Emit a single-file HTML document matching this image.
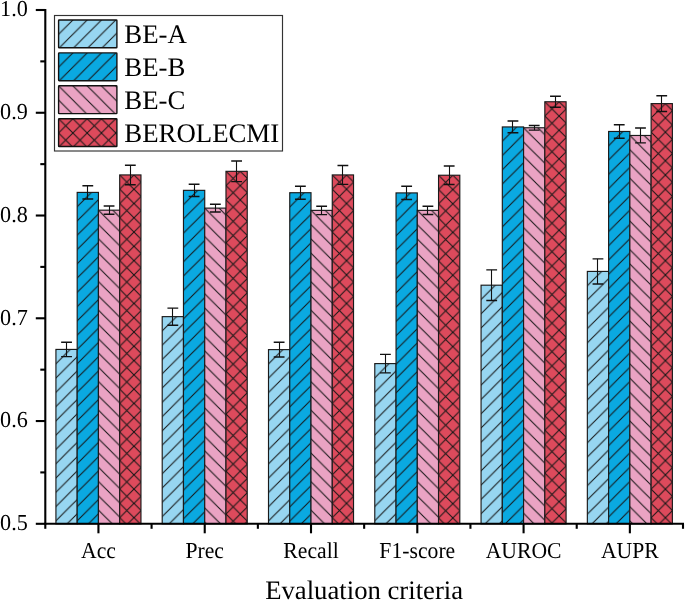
<!DOCTYPE html><html><head><meta charset="utf-8"><style>html,body{margin:0;padding:0;background:#fff;}svg{display:block;will-change:transform;}text{font-family:"Liberation Serif",serif;fill:#000;text-rendering:geometricPrecision;}</style></head><body>
<svg width="685" height="601" viewBox="0 0 685 601">
<defs><pattern id="p1" patternUnits="userSpaceOnUse" width="14.28" height="14.28" x="55.93" y="349.42"><rect width="15.28" height="15.28" fill="#97d6f1"/><path d="M-16.280,16.280L2.000,-2.000M-2.000,16.280L16.280,-2.000M12.280,16.280L30.560,-2.000" stroke="#161616" stroke-width="1.05" fill="none"/></pattern><pattern id="p2" patternUnits="userSpaceOnUse" width="14.28" height="14.28" x="77.18" y="192.40"><rect width="15.28" height="15.28" fill="#0aa9e1"/><path d="M-16.280,16.280L2.000,-2.000M-2.000,16.280L16.280,-2.000M12.280,16.280L30.560,-2.000" stroke="#161616" stroke-width="1.05" fill="none"/></pattern><pattern id="p3" patternUnits="userSpaceOnUse" width="14.28" height="14.28" x="98.44" y="210.18"><rect width="15.28" height="15.28" fill="#eaa3c3"/><path d="M-16.280,-2.000L2.000,16.280M-2.000,-2.000L16.280,16.280M12.280,-2.000L30.560,16.280" stroke="#161616" stroke-width="1.05" fill="none"/></pattern><pattern id="p4" patternUnits="userSpaceOnUse" width="14.28" height="14.28" x="119.70" y="174.93"><rect width="15.28" height="15.28" fill="#dd4a5c"/><path d="M-16.280,16.280L2.000,-2.000M-2.000,16.280L16.280,-2.000M12.280,16.280L30.560,-2.000" stroke="#161616" stroke-width="1.05" fill="none"/><path d="M-16.280,-2.000L2.000,16.280M-2.000,-2.000L16.280,16.280M12.280,-2.000L30.560,16.280" stroke="#161616" stroke-width="1.05" fill="none"/></pattern><pattern id="p5" patternUnits="userSpaceOnUse" width="14.28" height="14.28" x="162.21" y="316.64"><rect width="15.28" height="15.28" fill="#97d6f1"/><path d="M-16.280,16.280L2.000,-2.000M-2.000,16.280L16.280,-2.000M12.280,16.280L30.560,-2.000" stroke="#161616" stroke-width="1.05" fill="none"/></pattern><pattern id="p6" patternUnits="userSpaceOnUse" width="14.28" height="14.28" x="183.47" y="190.34"><rect width="15.28" height="15.28" fill="#0aa9e1"/><path d="M-16.280,16.280L2.000,-2.000M-2.000,16.280L16.280,-2.000M12.280,16.280L30.560,-2.000" stroke="#161616" stroke-width="1.05" fill="none"/></pattern><pattern id="p7" patternUnits="userSpaceOnUse" width="14.28" height="14.28" x="204.73" y="208.12"><rect width="15.28" height="15.28" fill="#eaa3c3"/><path d="M-16.280,-2.000L2.000,16.280M-2.000,-2.000L16.280,16.280M12.280,-2.000L30.560,16.280" stroke="#161616" stroke-width="1.05" fill="none"/></pattern><pattern id="p8" patternUnits="userSpaceOnUse" width="14.28" height="14.28" x="225.98" y="171.33"><rect width="15.28" height="15.28" fill="#dd4a5c"/><path d="M-16.280,16.280L2.000,-2.000M-2.000,16.280L16.280,-2.000M12.280,16.280L30.560,-2.000" stroke="#161616" stroke-width="1.05" fill="none"/><path d="M-16.280,-2.000L2.000,16.280M-2.000,-2.000L16.280,16.280M12.280,-2.000L30.560,16.280" stroke="#161616" stroke-width="1.05" fill="none"/></pattern><pattern id="p9" patternUnits="userSpaceOnUse" width="14.28" height="14.28" x="268.50" y="349.62"><rect width="15.28" height="15.28" fill="#97d6f1"/><path d="M-16.280,16.280L2.000,-2.000M-2.000,16.280L16.280,-2.000M12.280,16.280L30.560,-2.000" stroke="#161616" stroke-width="1.05" fill="none"/></pattern><pattern id="p10" patternUnits="userSpaceOnUse" width="14.28" height="14.28" x="289.75" y="192.71"><rect width="15.28" height="15.28" fill="#0aa9e1"/><path d="M-16.280,16.280L2.000,-2.000M-2.000,16.280L16.280,-2.000M12.280,16.280L30.560,-2.000" stroke="#161616" stroke-width="1.05" fill="none"/></pattern><pattern id="p11" patternUnits="userSpaceOnUse" width="14.28" height="14.28" x="311.01" y="210.38"><rect width="15.28" height="15.28" fill="#eaa3c3"/><path d="M-16.280,-2.000L2.000,16.280M-2.000,-2.000L16.280,16.280M12.280,-2.000L30.560,16.280" stroke="#161616" stroke-width="1.05" fill="none"/></pattern><pattern id="p12" patternUnits="userSpaceOnUse" width="14.28" height="14.28" x="332.27" y="174.93"><rect width="15.28" height="15.28" fill="#dd4a5c"/><path d="M-16.280,16.280L2.000,-2.000M-2.000,16.280L16.280,-2.000M12.280,16.280L30.560,-2.000" stroke="#161616" stroke-width="1.05" fill="none"/><path d="M-16.280,-2.000L2.000,16.280M-2.000,-2.000L16.280,16.280M12.280,-2.000L30.560,16.280" stroke="#161616" stroke-width="1.05" fill="none"/></pattern><pattern id="p13" patternUnits="userSpaceOnUse" width="14.28" height="14.28" x="374.78" y="363.60"><rect width="15.28" height="15.28" fill="#97d6f1"/><path d="M-16.280,16.280L2.000,-2.000M-2.000,16.280L16.280,-2.000M12.280,16.280L30.560,-2.000" stroke="#161616" stroke-width="1.05" fill="none"/></pattern><pattern id="p14" patternUnits="userSpaceOnUse" width="14.28" height="14.28" x="396.04" y="192.91"><rect width="15.28" height="15.28" fill="#0aa9e1"/><path d="M-16.280,16.280L2.000,-2.000M-2.000,16.280L16.280,-2.000M12.280,16.280L30.560,-2.000" stroke="#161616" stroke-width="1.05" fill="none"/></pattern><pattern id="p15" patternUnits="userSpaceOnUse" width="14.28" height="14.28" x="417.29" y="210.38"><rect width="15.28" height="15.28" fill="#eaa3c3"/><path d="M-16.280,-2.000L2.000,16.280M-2.000,-2.000L16.280,16.280M12.280,-2.000L30.560,16.280" stroke="#161616" stroke-width="1.05" fill="none"/></pattern><pattern id="p16" patternUnits="userSpaceOnUse" width="14.28" height="14.28" x="438.55" y="175.24"><rect width="15.28" height="15.28" fill="#dd4a5c"/><path d="M-16.280,16.280L2.000,-2.000M-2.000,16.280L16.280,-2.000M12.280,16.280L30.560,-2.000" stroke="#161616" stroke-width="1.05" fill="none"/><path d="M-16.280,-2.000L2.000,16.280M-2.000,-2.000L16.280,16.280M12.280,-2.000L30.560,16.280" stroke="#161616" stroke-width="1.05" fill="none"/></pattern><pattern id="p17" patternUnits="userSpaceOnUse" width="14.28" height="14.28" x="481.06" y="285.19"><rect width="15.28" height="15.28" fill="#97d6f1"/><path d="M-16.280,16.280L2.000,-2.000M-2.000,16.280L16.280,-2.000M12.280,16.280L30.560,-2.000" stroke="#161616" stroke-width="1.05" fill="none"/></pattern><pattern id="p18" patternUnits="userSpaceOnUse" width="14.28" height="14.28" x="502.32" y="126.94"><rect width="15.28" height="15.28" fill="#0aa9e1"/><path d="M-16.280,16.280L2.000,-2.000M-2.000,16.280L16.280,-2.000M12.280,16.280L30.560,-2.000" stroke="#161616" stroke-width="1.05" fill="none"/></pattern><pattern id="p19" patternUnits="userSpaceOnUse" width="14.28" height="14.28" x="523.58" y="127.76"><rect width="15.28" height="15.28" fill="#eaa3c3"/><path d="M-16.280,-2.000L2.000,16.280M-2.000,-2.000L16.280,16.280M12.280,-2.000L30.560,16.280" stroke="#161616" stroke-width="1.05" fill="none"/></pattern><pattern id="p20" patternUnits="userSpaceOnUse" width="14.28" height="14.28" x="544.83" y="101.76"><rect width="15.28" height="15.28" fill="#dd4a5c"/><path d="M-16.280,16.280L2.000,-2.000M-2.000,16.280L16.280,-2.000M12.280,16.280L30.560,-2.000" stroke="#161616" stroke-width="1.05" fill="none"/><path d="M-16.280,-2.000L2.000,16.280M-2.000,-2.000L16.280,16.280M12.280,-2.000L30.560,16.280" stroke="#161616" stroke-width="1.05" fill="none"/></pattern><pattern id="p21" patternUnits="userSpaceOnUse" width="14.28" height="14.28" x="587.35" y="271.42"><rect width="15.28" height="15.28" fill="#97d6f1"/><path d="M-16.280,16.280L2.000,-2.000M-2.000,16.280L16.280,-2.000M12.280,16.280L30.560,-2.000" stroke="#161616" stroke-width="1.05" fill="none"/></pattern><pattern id="p22" patternUnits="userSpaceOnUse" width="14.28" height="14.28" x="608.60" y="131.46"><rect width="15.28" height="15.28" fill="#0aa9e1"/><path d="M-16.280,16.280L2.000,-2.000M-2.000,16.280L16.280,-2.000M12.280,16.280L30.560,-2.000" stroke="#161616" stroke-width="1.05" fill="none"/></pattern><pattern id="p23" patternUnits="userSpaceOnUse" width="14.28" height="14.28" x="629.86" y="135.47"><rect width="15.28" height="15.28" fill="#eaa3c3"/><path d="M-16.280,-2.000L2.000,16.280M-2.000,-2.000L16.280,16.280M12.280,-2.000L30.560,16.280" stroke="#161616" stroke-width="1.05" fill="none"/></pattern><pattern id="p24" patternUnits="userSpaceOnUse" width="14.28" height="14.28" x="651.12" y="103.61"><rect width="15.28" height="15.28" fill="#dd4a5c"/><path d="M-16.280,16.280L2.000,-2.000M-2.000,16.280L16.280,-2.000M12.280,16.280L30.560,-2.000" stroke="#161616" stroke-width="1.05" fill="none"/><path d="M-16.280,-2.000L2.000,16.280M-2.000,-2.000L16.280,16.280M12.280,-2.000L30.560,16.280" stroke="#161616" stroke-width="1.05" fill="none"/></pattern><pattern id="p25" patternUnits="userSpaceOnUse" width="14.28" height="14.28" x="58.60" y="20.00"><rect width="15.28" height="15.28" fill="#97d6f1"/><path d="M-16.280,16.280L2.000,-2.000M-2.000,16.280L16.280,-2.000M12.280,16.280L30.560,-2.000" stroke="#161616" stroke-width="1.05" fill="none"/></pattern><pattern id="p26" patternUnits="userSpaceOnUse" width="14.28" height="14.28" x="58.60" y="52.90"><rect width="15.28" height="15.28" fill="#0aa9e1"/><path d="M-16.280,16.280L2.000,-2.000M-2.000,16.280L16.280,-2.000M12.280,16.280L30.560,-2.000" stroke="#161616" stroke-width="1.05" fill="none"/></pattern><pattern id="p27" patternUnits="userSpaceOnUse" width="14.28" height="14.28" x="58.60" y="85.80"><rect width="15.28" height="15.28" fill="#eaa3c3"/><path d="M-16.280,-2.000L2.000,16.280M-2.000,-2.000L16.280,16.280M12.280,-2.000L30.560,16.280" stroke="#161616" stroke-width="1.05" fill="none"/></pattern><pattern id="p28" patternUnits="userSpaceOnUse" width="14.28" height="14.28" x="58.60" y="118.70"><rect width="15.28" height="15.28" fill="#dd4a5c"/><path d="M-16.280,16.280L2.000,-2.000M-2.000,16.280L16.280,-2.000M12.280,16.280L30.560,-2.000" stroke="#161616" stroke-width="1.05" fill="none"/><path d="M-16.280,-2.000L2.000,16.280M-2.000,-2.000L16.280,16.280M12.280,-2.000L30.560,16.280" stroke="#161616" stroke-width="1.05" fill="none"/></pattern></defs>
<rect width="685" height="601" fill="#fff"/>
<rect x="55.93" y="349.42" width="21.26" height="174.38" fill="url(#p1)" stroke="#1a1a1a" stroke-width="1.15"/>
<rect x="77.18" y="192.40" width="21.26" height="331.40" fill="url(#p2)" stroke="#1a1a1a" stroke-width="1.15"/>
<rect x="98.44" y="210.18" width="21.26" height="313.62" fill="url(#p3)" stroke="#1a1a1a" stroke-width="1.15"/>
<rect x="119.70" y="174.93" width="21.26" height="348.87" fill="url(#p4)" stroke="#1a1a1a" stroke-width="1.15"/>
<rect x="162.21" y="316.64" width="21.26" height="207.16" fill="url(#p5)" stroke="#1a1a1a" stroke-width="1.15"/>
<rect x="183.47" y="190.34" width="21.26" height="333.46" fill="url(#p6)" stroke="#1a1a1a" stroke-width="1.15"/>
<rect x="204.73" y="208.12" width="21.26" height="315.68" fill="url(#p7)" stroke="#1a1a1a" stroke-width="1.15"/>
<rect x="225.98" y="171.33" width="21.26" height="352.47" fill="url(#p8)" stroke="#1a1a1a" stroke-width="1.15"/>
<rect x="268.50" y="349.62" width="21.26" height="174.18" fill="url(#p9)" stroke="#1a1a1a" stroke-width="1.15"/>
<rect x="289.75" y="192.71" width="21.26" height="331.09" fill="url(#p10)" stroke="#1a1a1a" stroke-width="1.15"/>
<rect x="311.01" y="210.38" width="21.26" height="313.42" fill="url(#p11)" stroke="#1a1a1a" stroke-width="1.15"/>
<rect x="332.27" y="174.93" width="21.26" height="348.87" fill="url(#p12)" stroke="#1a1a1a" stroke-width="1.15"/>
<rect x="374.78" y="363.60" width="21.26" height="160.20" fill="url(#p13)" stroke="#1a1a1a" stroke-width="1.15"/>
<rect x="396.04" y="192.91" width="21.26" height="330.89" fill="url(#p14)" stroke="#1a1a1a" stroke-width="1.15"/>
<rect x="417.29" y="210.38" width="21.26" height="313.42" fill="url(#p15)" stroke="#1a1a1a" stroke-width="1.15"/>
<rect x="438.55" y="175.24" width="21.26" height="348.56" fill="url(#p16)" stroke="#1a1a1a" stroke-width="1.15"/>
<rect x="481.06" y="285.19" width="21.26" height="238.61" fill="url(#p17)" stroke="#1a1a1a" stroke-width="1.15"/>
<rect x="502.32" y="126.94" width="21.26" height="396.86" fill="url(#p18)" stroke="#1a1a1a" stroke-width="1.15"/>
<rect x="523.58" y="127.76" width="21.26" height="396.04" fill="url(#p19)" stroke="#1a1a1a" stroke-width="1.15"/>
<rect x="544.83" y="101.76" width="21.26" height="422.04" fill="url(#p20)" stroke="#1a1a1a" stroke-width="1.15"/>
<rect x="587.35" y="271.42" width="21.26" height="252.38" fill="url(#p21)" stroke="#1a1a1a" stroke-width="1.15"/>
<rect x="608.60" y="131.46" width="21.26" height="392.34" fill="url(#p22)" stroke="#1a1a1a" stroke-width="1.15"/>
<rect x="629.86" y="135.47" width="21.26" height="388.33" fill="url(#p23)" stroke="#1a1a1a" stroke-width="1.15"/>
<rect x="651.12" y="103.61" width="21.26" height="420.19" fill="url(#p24)" stroke="#1a1a1a" stroke-width="1.15"/>
<path d="M66.50,342.22V356.61" stroke="#111" stroke-width="1.1" fill="none"/>
<path d="M61.16,342.22H71.96M61.16,356.61H71.96" stroke="#111" stroke-width="1.45" fill="none"/>
<path d="M87.50,185.72V199.08" stroke="#111" stroke-width="1.1" fill="none"/>
<path d="M82.41,185.72H93.21M82.41,199.08H93.21" stroke="#111" stroke-width="1.45" fill="none"/>
<path d="M109.50,206.07V214.29" stroke="#111" stroke-width="1.1" fill="none"/>
<path d="M103.67,206.07H114.47M103.67,214.29H114.47" stroke="#111" stroke-width="1.45" fill="none"/>
<path d="M130.50,165.17V184.69" stroke="#111" stroke-width="1.1" fill="none"/>
<path d="M124.93,165.17H135.73M124.93,184.69H135.73" stroke="#111" stroke-width="1.45" fill="none"/>
<path d="M172.50,308.11V325.16" stroke="#111" stroke-width="1.1" fill="none"/>
<path d="M167.44,308.11H178.24M167.44,325.16H178.24" stroke="#111" stroke-width="1.45" fill="none"/>
<path d="M194.50,184.18V196.51" stroke="#111" stroke-width="1.1" fill="none"/>
<path d="M188.70,184.18H199.50M188.70,196.51H199.50" stroke="#111" stroke-width="1.45" fill="none"/>
<path d="M215.50,204.22V212.03" stroke="#111" stroke-width="1.1" fill="none"/>
<path d="M209.95,204.22H220.75M209.95,212.03H220.75" stroke="#111" stroke-width="1.45" fill="none"/>
<path d="M236.50,161.06V181.61" stroke="#111" stroke-width="1.1" fill="none"/>
<path d="M231.21,161.06H242.01M231.21,181.61H242.01" stroke="#111" stroke-width="1.45" fill="none"/>
<path d="M279.50,342.22V357.02" stroke="#111" stroke-width="1.1" fill="none"/>
<path d="M273.72,342.22H284.52M273.72,357.02H284.52" stroke="#111" stroke-width="1.45" fill="none"/>
<path d="M300.50,186.23V199.18" stroke="#111" stroke-width="1.1" fill="none"/>
<path d="M294.98,186.23H305.78M294.98,199.18H305.78" stroke="#111" stroke-width="1.45" fill="none"/>
<path d="M321.50,206.17V214.60" stroke="#111" stroke-width="1.1" fill="none"/>
<path d="M316.24,206.17H327.04M316.24,214.60H327.04" stroke="#111" stroke-width="1.45" fill="none"/>
<path d="M342.50,165.48V184.38" stroke="#111" stroke-width="1.1" fill="none"/>
<path d="M337.49,165.48H348.29M337.49,184.38H348.29" stroke="#111" stroke-width="1.45" fill="none"/>
<path d="M385.50,354.35V372.85" stroke="#111" stroke-width="1.1" fill="none"/>
<path d="M380.01,354.35H390.81M380.01,372.85H390.81" stroke="#111" stroke-width="1.45" fill="none"/>
<path d="M406.50,186.23V199.59" stroke="#111" stroke-width="1.1" fill="none"/>
<path d="M401.26,186.23H412.06M401.26,199.59H412.06" stroke="#111" stroke-width="1.45" fill="none"/>
<path d="M427.50,206.27V214.49" stroke="#111" stroke-width="1.1" fill="none"/>
<path d="M422.52,206.27H433.32M422.52,214.49H433.32" stroke="#111" stroke-width="1.45" fill="none"/>
<path d="M449.50,165.99V184.49" stroke="#111" stroke-width="1.1" fill="none"/>
<path d="M443.78,165.99H454.58M443.78,184.49H454.58" stroke="#111" stroke-width="1.45" fill="none"/>
<path d="M491.50,269.88V300.50" stroke="#111" stroke-width="1.1" fill="none"/>
<path d="M486.29,269.88H497.09M486.29,300.50H497.09" stroke="#111" stroke-width="1.45" fill="none"/>
<path d="M512.50,121.08V132.80" stroke="#111" stroke-width="1.1" fill="none"/>
<path d="M507.55,121.08H518.35M507.55,132.80H518.35" stroke="#111" stroke-width="1.45" fill="none"/>
<path d="M534.50,125.40V130.13" stroke="#111" stroke-width="1.1" fill="none"/>
<path d="M528.80,125.40H539.60M528.80,130.13H539.60" stroke="#111" stroke-width="1.45" fill="none"/>
<path d="M555.50,96.32V107.21" stroke="#111" stroke-width="1.1" fill="none"/>
<path d="M550.06,96.32H560.86M550.06,107.21H560.86" stroke="#111" stroke-width="1.45" fill="none"/>
<path d="M597.50,258.88V283.96" stroke="#111" stroke-width="1.1" fill="none"/>
<path d="M592.57,258.88H603.37M592.57,283.96H603.37" stroke="#111" stroke-width="1.45" fill="none"/>
<path d="M619.50,124.68V138.24" stroke="#111" stroke-width="1.1" fill="none"/>
<path d="M613.83,124.68H624.63M613.83,138.24H624.63" stroke="#111" stroke-width="1.45" fill="none"/>
<path d="M640.50,128.07V142.87" stroke="#111" stroke-width="1.1" fill="none"/>
<path d="M635.09,128.07H645.89M635.09,142.87H645.89" stroke="#111" stroke-width="1.45" fill="none"/>
<path d="M661.50,95.80V111.42" stroke="#111" stroke-width="1.1" fill="none"/>
<path d="M656.34,95.80H667.14M656.34,111.42H667.14" stroke="#111" stroke-width="1.45" fill="none"/>
<path d="M45.3,9.0 V524.8" stroke="#000" stroke-width="2.1" fill="none"/>
<path d="M44.3,523.8 H684.0" stroke="#000" stroke-width="2.1" fill="none"/>
<path d="M35.8,10.00H45.3" stroke="#000" stroke-width="2.1"/>
<text transform="translate(27.8,16.30) scale(1,1.03)" font-size="22.2" text-anchor="end">1.0</text>
<path d="M35.8,112.76H45.3" stroke="#000" stroke-width="2.1"/>
<text transform="translate(27.8,119.06) scale(1,1.03)" font-size="22.2" text-anchor="end">0.9</text>
<path d="M35.8,215.52H45.3" stroke="#000" stroke-width="2.1"/>
<text transform="translate(27.8,221.82) scale(1,1.03)" font-size="22.2" text-anchor="end">0.8</text>
<path d="M35.8,318.28H45.3" stroke="#000" stroke-width="2.1"/>
<text transform="translate(27.8,324.58) scale(1,1.03)" font-size="22.2" text-anchor="end">0.7</text>
<path d="M35.8,421.04H45.3" stroke="#000" stroke-width="2.1"/>
<text transform="translate(27.8,427.34) scale(1,1.03)" font-size="22.2" text-anchor="end">0.6</text>
<path d="M35.8,523.80H45.3" stroke="#000" stroke-width="2.1"/>
<text transform="translate(27.8,530.10) scale(1,1.03)" font-size="22.2" text-anchor="end">0.5</text>
<path d="M40.3,61.38H45.3" stroke="#000" stroke-width="2.1"/>
<path d="M40.3,164.14H45.3" stroke="#000" stroke-width="2.1"/>
<path d="M40.3,266.90H45.3" stroke="#000" stroke-width="2.1"/>
<path d="M40.3,369.66H45.3" stroke="#000" stroke-width="2.1"/>
<path d="M40.3,472.42H45.3" stroke="#000" stroke-width="2.1"/>
<path d="M98.44,523.8V533.3" stroke="#000" stroke-width="2.1"/>
<text transform="translate(98.44,557.8) scale(1,1.05)" font-size="21.7" text-anchor="middle">Acc</text>
<path d="M204.73,523.8V533.3" stroke="#000" stroke-width="2.1"/>
<text transform="translate(204.73,557.8) scale(1,1.05)" font-size="21.7" text-anchor="middle">Prec</text>
<path d="M311.01,523.8V533.3" stroke="#000" stroke-width="2.1"/>
<text transform="translate(311.01,557.8) scale(1,1.05)" font-size="21.7" text-anchor="middle">Recall</text>
<path d="M417.29,523.8V533.3" stroke="#000" stroke-width="2.1"/>
<text transform="translate(417.29,557.8) scale(1,1.05)" font-size="21.7" text-anchor="middle">F1-score</text>
<path d="M523.58,523.8V533.3" stroke="#000" stroke-width="2.1"/>
<text transform="translate(523.58,557.8) scale(1,1.05)" font-size="21.7" text-anchor="middle">AUROC</text>
<path d="M629.86,523.8V533.3" stroke="#000" stroke-width="2.1"/>
<text transform="translate(629.86,557.8) scale(1,1.05)" font-size="21.7" text-anchor="middle">AUPR</text>
<path d="M45.30,523.8V528.8" stroke="#000" stroke-width="2.1"/>
<path d="M151.58,523.8V528.8" stroke="#000" stroke-width="2.1"/>
<path d="M257.87,523.8V528.8" stroke="#000" stroke-width="2.1"/>
<path d="M364.15,523.8V528.8" stroke="#000" stroke-width="2.1"/>
<path d="M470.43,523.8V528.8" stroke="#000" stroke-width="2.1"/>
<path d="M576.72,523.8V528.8" stroke="#000" stroke-width="2.1"/>
<path d="M683.00,523.8V528.8" stroke="#000" stroke-width="2.1"/>
<text x="364.15" y="599.2" font-size="26.7" text-anchor="middle">Evaluation criteria</text>
<rect x="54.5" y="15.5" width="228" height="135.5" fill="#fff" stroke="#333" stroke-width="1.15"/>
<rect x="58.6" y="20.00" width="58.3" height="27.8" fill="url(#p25)" stroke="#111" stroke-width="1.4" rx="0.6"/>
<text x="124.3" y="43.00" font-size="26.8">BE-A</text>
<rect x="58.6" y="52.90" width="58.3" height="27.8" fill="url(#p26)" stroke="#111" stroke-width="1.4" rx="0.6"/>
<text x="124.3" y="75.90" font-size="26.8">BE-B</text>
<rect x="58.6" y="85.80" width="58.3" height="27.8" fill="url(#p27)" stroke="#111" stroke-width="1.4" rx="0.6"/>
<text x="124.3" y="108.80" font-size="26.8">BE-C</text>
<rect x="58.6" y="118.70" width="58.3" height="27.8" fill="url(#p28)" stroke="#111" stroke-width="1.4" rx="0.6"/>
<text x="124.3" y="141.70" font-size="26.8">BEROLECMI</text>
</svg></body></html>
